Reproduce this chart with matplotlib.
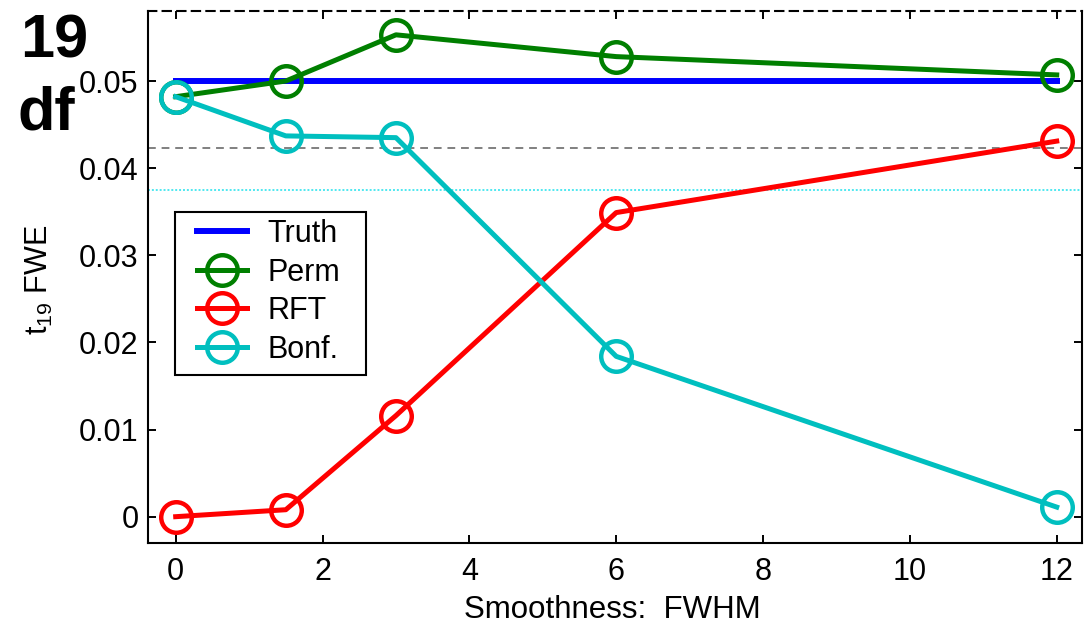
import matplotlib
matplotlib.use("Agg")
import matplotlib.pyplot as plt
from matplotlib.ticker import FixedLocator
from matplotlib.patches import Rectangle

plt.rcParams['font.family'] = ['Liberation Sans', 'DejaVu Sans']
plt.rcParams['mathtext.fontset'] = 'custom'
plt.rcParams['mathtext.rm'] = 'Liberation Sans'
plt.rcParams['mathtext.it'] = 'Liberation Sans'
plt.rcParams['mathtext.bf'] = 'Liberation Sans:bold'

# ---- data ----
fwhm = [0, 1.5, 3, 6, 12]
truth_x = [0, 12]
truth_y = [0.05, 0.05]
perm = [0.0482, 0.0500, 0.0553, 0.0528, 0.0507]
rft = [0.0000, 0.0008, 0.0116, 0.0349, 0.0431]
bonf = [0.0482, 0.0437, 0.0435, 0.0184, 0.0011]
ref_dashed = 0.0423
ref_dotted = 0.0375
xticks = [0, 2, 4, 6, 8, 10, 12]
yticks = [0, 0.01, 0.02, 0.03, 0.04, 0.05]
ytick_labels = ['0', '0.01', '0.02', '0.03', '0.04', '0.05']

W, H = 1086, 626
fig = plt.figure(figsize=(W/100, H/100), dpi=100)
ax = fig.add_axes([148.3/W, 1-543/H, (1081.7-148.3)/W, (543-11.3)/H])

ax.axhline(ref_dashed, color='#808080', lw=1.4, ls=(0, (4, 3)), zorder=1)
ax.axhline(ref_dotted, color='#4fe8f0', lw=1.4, ls=(0, (1, 1)), zorder=1)

mk = dict(marker='o', markersize=22, markerfacecolor='none', markeredgewidth=3.2)
ax.plot(truth_x, truth_y, color='#0000ff', lw=4.3, label='Truth', zorder=2)
ax.plot(fwhm, perm, color='#007f00', lw=3.6, label='Perm', zorder=3, **mk)
ax.plot(fwhm, rft, color='#ff0000', lw=3.6, label='RFT', zorder=3, **mk)
ax.plot(fwhm, bonf, color='#00bfbf', lw=3.6, label='Bonf.', zorder=3, **mk)

ax.set_xlim(-0.373, 12.34)
ax.set_ylim(-0.00302, 0.0580)
ax.xaxis.set_major_locator(FixedLocator(xticks))
ax.set_xticklabels([str(t) for t in xticks])
ax.yaxis.set_major_locator(FixedLocator(yticks))
ax.set_yticklabels(ytick_labels)

ax.tick_params(direction='in', length=6, width=1.4, top=True, right=True,
               labelsize=22, colors='black')
ax.tick_params(axis='x', pad=10)
ax.tick_params(axis='y', pad=7)

for s in ['left', 'bottom', 'right']:
    ax.spines[s].set_linewidth(1.5)
    ax.spines[s].set_color('black')
ax.spines['top'].set_linestyle((0, (4, 3)))
ax.spines['top'].set_linewidth(1.5)

ax.set_xlabel('Smoothness:  FWHM', fontsize=22.5)
ax.xaxis.set_label_coords(0.497, -0.098)
ax.set_ylabel(r'$\mathrm{t_{19}}$ FWE', fontsize=22)
ax.yaxis.set_label_coords(-0.100, 0.495)

frame = Rectangle((175/W, 1-375/H), (366-175)/W, (375-212)/H,
                  transform=fig.transFigure, facecolor='white',
                  edgecolor='black', lw=1.5, zorder=6)
ax.add_patch(frame)
leg = ax.legend(loc='upper left', bbox_to_anchor=(197/W, 1-219/H),
                bbox_transform=fig.transFigure, borderaxespad=0, borderpad=0,
                fontsize=22, frameon=False,
                handlelength=1.65, handletextpad=0.65, labelspacing=0.28)
leg.set_zorder(7)

fig.text(20/W, 1-57/H, '19', fontsize=44, fontweight='bold', ha='left', va='baseline')
fig.text(18/W, 1-130/H, 'df', fontsize=44, fontweight='bold', ha='left', va='baseline')

fig.savefig('out.png', dpi=100)
